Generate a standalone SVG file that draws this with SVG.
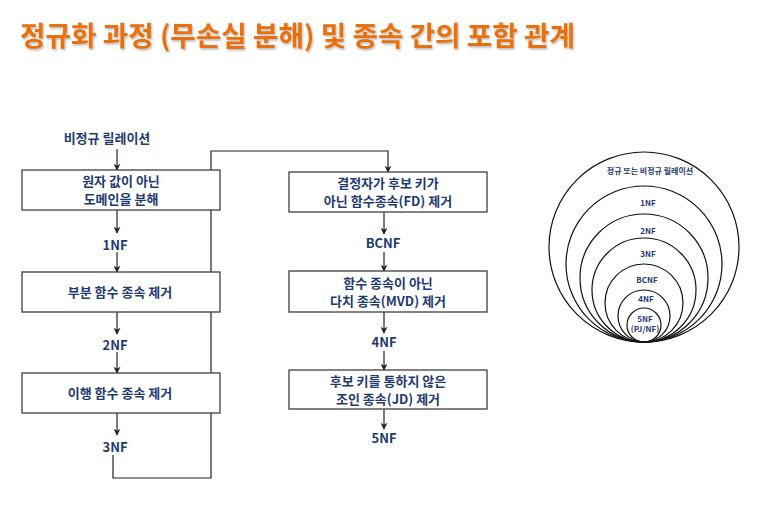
<svg xmlns="http://www.w3.org/2000/svg" width="757" height="517" viewBox="0 0 757 517">
<style>
.t{font-family:"Noto Sans CJK KR","Noto Sans",sans-serif;font-weight:bold;fill:#1f3a70;text-anchor:middle}
.b{font-size:13px}
.c{font-size:8px}
.box{fill:#fff;stroke:#404040;stroke-width:1.3}
.ln{fill:none;stroke:#222;stroke-width:1.2}
.cir{fill:none;stroke:#111;stroke-width:1.2}
.title{font-family:"Noto Sans CJK KR",sans-serif;font-weight:bold;font-size:27.5px;fill:#e8700f}
</style>
<defs>
<marker id="ah" viewBox="0 0 10 10" refX="9" refY="5" markerWidth="7" markerHeight="7" orient="auto" markerUnits="userSpaceOnUse">
<path d="M0,0 L10,5 L0,10 L3,5 Z" fill="#222"/>
</marker>
<filter id="sh" x="-5%" y="-20%" width="110%" height="150%">
<feDropShadow dx="1" dy="1.5" stdDeviation="1" flood-color="#000" flood-opacity="0.3"/>
</filter>
</defs>
<rect width="757" height="517" fill="#fff"/>
<text class="title" x="20" y="46" textLength="555" lengthAdjust="spacingAndGlyphs" filter="url(#sh)">정규화 과정 (무손실 분해) 및 종속 간의 포함 관계</text>

<g id="connectors">
<line class="ln" x1="117" y1="149" x2="117" y2="170" marker-end="url(#ah)"/>
<line class="ln" x1="117" y1="210" x2="117" y2="233" marker-end="url(#ah)"/>
<line class="ln" x1="117" y1="252" x2="117" y2="272" marker-end="url(#ah)"/>
<line class="ln" x1="117" y1="312" x2="117" y2="334" marker-end="url(#ah)"/>
<line class="ln" x1="117" y1="352" x2="117" y2="373" marker-end="url(#ah)"/>
<line class="ln" x1="117" y1="413" x2="117" y2="435" marker-end="url(#ah)"/>
<polyline class="ln" points="113,455 113,478 211,478 211,151 388,151 388,172" marker-end="url(#ah)"/>
<line class="ln" x1="384" y1="212" x2="384" y2="234" marker-end="url(#ah)"/>
<line class="ln" x1="384" y1="252" x2="384" y2="271" marker-end="url(#ah)"/>
<line class="ln" x1="384" y1="312" x2="384" y2="333" marker-end="url(#ah)"/>
<line class="ln" x1="384" y1="351" x2="384" y2="370" marker-end="url(#ah)"/>
<line class="ln" x1="384" y1="409" x2="384" y2="429" marker-end="url(#ah)"/>
</g>

<g id="n-start"><text class="t b" x="107" y="143">비정규 릴레이션</text></g>
<g id="n-box1"><rect class="box" x="22" y="170" width="198" height="40"/>
<text class="t b" x="121" y="186">원자 값이 아닌</text><text class="t b" x="121" y="204">도메인을 분해</text></g>
<g id="n-1nf"><text class="t b" x="115" y="250">1NF</text></g>
<g id="n-box2"><rect class="box" x="22" y="272" width="198" height="40"/>
<text class="t b" x="120" y="297">부분 함수 종속 제거</text></g>
<g id="n-2nf"><text class="t b" x="115" y="350">2NF</text></g>
<g id="n-box3"><rect class="box" x="22" y="373" width="198" height="40"/>
<text class="t b" x="120" y="398">이행 함수 종속 제거</text></g>
<g id="n-3nf"><text class="t b" x="115" y="452">3NF</text></g>

<g id="n-box4"><rect class="box" x="289" y="172" width="198" height="40"/>
<text class="t b" x="388" y="188">결정자가 후보 키가</text><text class="t b" x="388" y="206">아닌 함수종속(FD) 제거</text></g>
<g id="n-bcnf"><text class="t b" x="383" y="248">BCNF</text></g>
<g id="n-box5"><rect class="box" x="289" y="271" width="198" height="41"/>
<text class="t b" x="388" y="288">함수 종속이 아닌</text><text class="t b" x="388" y="306">다치 종속(MVD) 제거</text></g>
<g id="n-4nf"><text class="t b" x="384" y="347">4NF</text></g>
<g id="n-box6"><rect class="box" x="289" y="370" width="198" height="39"/>
<text class="t b" x="388" y="386">후보 키를 통하지 않은</text><text class="t b" x="388" y="404">조인 종속(JD) 제거</text></g>
<g id="n-5nf"><text class="t b" x="384" y="443">5NF</text></g>

<g id="n-venn">
<circle class="cir" cx="644" cy="247" r="95"/>
<circle class="cir" cx="644" cy="264" r="78"/>
<circle class="cir" cx="644" cy="278" r="64"/>
<circle class="cir" cx="644" cy="290" r="52"/>
<circle class="cir" cx="644" cy="303" r="39"/>
<circle class="cir" cx="644" cy="316" r="26"/>
<circle class="cir" cx="644" cy="325" r="17"/>
<text class="t c" x="650" y="174">정규 또는 비정규 릴레이션</text>
<text class="t c" x="648" y="206">1NF</text>
<text class="t c" x="648" y="234">2NF</text>
<text class="t c" x="648" y="257">3NF</text>
<text class="t c" x="647" y="283">BCNF</text>
<text class="t c" x="646" y="302">4NF</text>
<text class="t c" x="645" y="322">5NF</text>
<text class="t c" x="645" y="332">(PJ/NF)</text>
</g>
</svg>
